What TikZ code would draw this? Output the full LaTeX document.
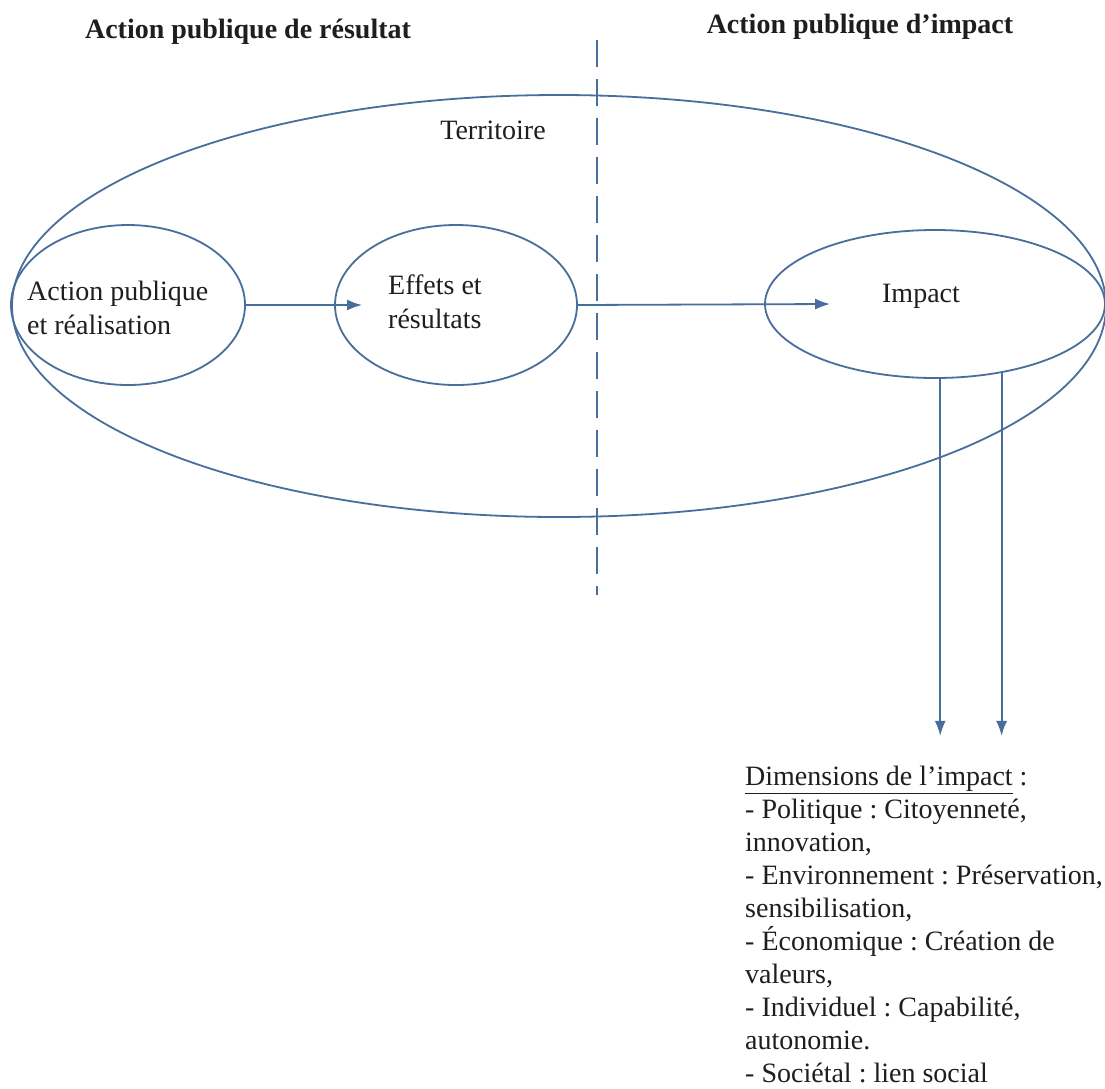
\documentclass[tikz,border=0pt]{standalone}
\usepackage{fontspec}
\setmainfont{Liberation Serif}
\frenchspacing
\usetikzlibrary{shapes.geometric,arrows.meta,calc}
\definecolor{lineblue}{RGB}{72,110,155}
\definecolor{txt}{RGB}{30,30,30}
\tikzset{
  oval/.style={draw=lineblue, line width=1.8pt, ellipse, inner sep=0pt},
  arr/.style={draw=lineblue, line width=1.8pt, -{Latex[length=15pt,width=11pt]}},
  lbl/.style={text=txt, inner sep=0pt, font=\fontsize{28}{34}\selectfont, align=left},
  ttl/.style={text=txt, inner sep=0pt, font=\fontsize{28}{32}\selectfont\bfseries}
}
\begin{document}
\begin{tikzpicture}[x=1pt,y=-1pt]
\useasboundingbox[fill=white] (0,0) rectangle (1105,1088);
% titles
\node[ttl] (t1) at (248,32) {Action publique de résultat};
\node[ttl] (t2) at (860,27) {Action publique d’impact};
% territory
\node[oval, minimum width=1094pt, minimum height=422pt] (terr) at (559,306) {};
\node[lbl] (terrl) at (493,130) {Territoire};
% small ellipses
\node[oval, minimum width=234pt, minimum height=160pt] (ap) at (128,305) {};
\node[oval, minimum width=242pt, minimum height=160pt] (ef) at (456,305) {};
\node[oval, minimum width=340pt, minimum height=148pt] (imp) at (935,304) {};
\node[lbl, anchor=west] (apl) at (27,308) {Action publique\\et réalisation};
\node[lbl, anchor=west] (efl) at (388,302) {Effets et\\résultats};
\node[lbl] (impl) at (921,296) {Impact};
% dashed separator
\coordinate (dtop) at (597,40);
\coordinate (dbot) at (597,595);
\draw[lineblue, line width=1.8pt, dash pattern=on 27pt off 12pt] (dtop) -- (dbot);
% arrows
\draw[arr] (ap.east) -- ([xshift=28pt]ef.west);
\draw[arr] (ef.east) -- ([xshift=66pt]imp.west);
\draw[arr] (imp.-86) -- ++(0,357);
\draw[arr] (imp.-46.3) -- ++(0,363);
% dimensions text
\node[lbl, anchor=north west] (dims) at (745,766) {\underline{Dimensions de l’impact} :\\[-1pt]
- Politique : Citoyenneté,\\[-1pt]
innovation,\\[-1pt]
- Environnement : Préservation,\\[-1pt]
sensibilisation,\\[-1pt]
- Économique : Création de\\[-1pt]
valeurs,\\[-1pt]
- Individuel : Capabilité,\\[-1pt]
autonomie.\\[-1pt]
- Sociétal : lien social};
\end{tikzpicture}
\end{document}
